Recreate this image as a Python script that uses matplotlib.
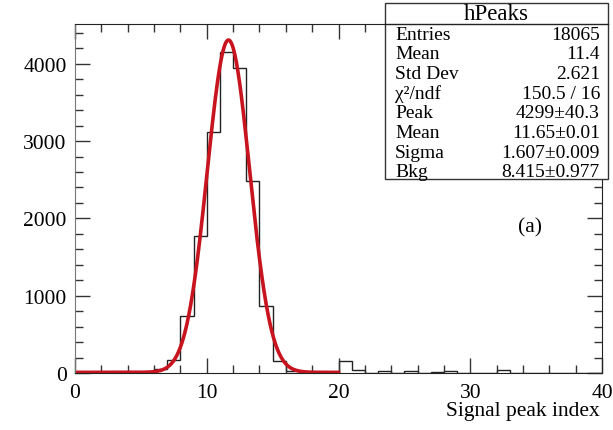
import numpy as np
import matplotlib
matplotlib.use("Agg")
import matplotlib.pyplot as plt
from matplotlib.patches import Rectangle
from matplotlib.lines import Line2D
from matplotlib.ticker import MultipleLocator

plt.rcParams["font.family"] = ["Liberation Serif", "DejaVu Serif"]

# histogram contents, bins of width 1 from 0 to 40
bin_edges = list(range(0, 41))
counts = [0, 0, 0, 0, 0, 0, 50, 164, 741, 1768,
          3113, 4148, 3941, 2484, 871, 160, 30, 10, 5, 3,
          150, 40, 3, 20, 5, 20, 5, 8, 20, 5,
          3, 5, 40, 5, 3, 2, 0, 0, 0, 0]

# gaus + constant fit parameters (from the stats box)
fit_peak, fit_mean, fit_sigma, fit_bkg = 4299.0, 11.65, 1.607, 8.415
fit_range = (0.0, 20.0)

stat_labels = ["Entries", "Mean", "Std Dev", "χ²/ndf", "Peak", "Mean", "Sigma", "Bkg"]
stat_values = ["18065", "11.4", "2.621", "150.5 / 16", "4299±40.3",
               "11.65±0.01", "1.607±0.009", "8.415±0.977"]

W, H = 613, 431
fig = plt.figure(figsize=(W / 100, H / 100), dpi=100)
ax = fig.add_axes([75 / W, 1 - 374 / H, (602 - 75) / W, (374 - 25) / H])

ax.stairs(counts, bin_edges, color="#222222", lw=1.0)

xf = np.linspace(*fit_range, 600)
yf = fit_peak * np.exp(-0.5 * ((xf - fit_mean) / fit_sigma) ** 2) + fit_bkg
ax.plot(xf, yf, color="#c8141e", lw=2.6)

ax.set_xlim(0, 40)
ax.set_ylim(0, 4515)
ax.xaxis.set_major_locator(MultipleLocator(10))
ax.xaxis.set_minor_locator(MultipleLocator(2))
ax.yaxis.set_major_locator(MultipleLocator(1000))
ax.yaxis.set_minor_locator(MultipleLocator(200))
ax.tick_params(which="both", direction="in", top=True, right=True, labelsize=15.5,
               color="#333333")
ax.tick_params(which="major", length=11, width=1.0)
ax.tick_params(axis="x", which="major", pad=7)
ax.tick_params(axis="y", which="major", pad=6)
ax.tick_params(which="minor", length=6, width=1.0)
for side in ["top", "right", "bottom"]:
    ax.spines[side].set_color("#222222")
ax.spines["left"].set_color("#777777")


def fy(y):
    # figure pixel row (from top) -> figure fraction
    return 1 - y / H


fig.text(600 / W, fy(412), "Signal peak index", ha="right", va="center", fontsize=15.5)
fig.text(530 / W, fy(228), "(a)", ha="center", va="center", fontsize=15.5)

# stats box
bx0, bx1, by0, by1 = 385, 608, 4, 180
fig.patches.append(Rectangle((bx0 / W, fy(by1)), (bx1 - bx0) / W, (by1 - by0) / H,
                             transform=fig.transFigure, facecolor="white",
                             edgecolor="#333333", lw=1.0, zorder=5))
fig.lines.append(Line2D([bx0 / W, bx1 / W], [fy(25), fy(25)], transform=fig.transFigure,
                        color="#222222", lw=1.0, zorder=6))
fig.text((bx0 + bx1) / 2 / W, fy(14), "hPeaks", ha="center", va="center",
         fontsize=16.5, zorder=7)
for i, (lab, val) in enumerate(zip(stat_labels, stat_values)):
    y = fy(35 + i * 19.7)
    fig.text(395 / W, y, lab, ha="left", va="center", fontsize=14, zorder=7)
    fig.text(600 / W, y, val, ha="right", va="center", fontsize=14, zorder=7)

fig.savefig("out.png", dpi=100)
